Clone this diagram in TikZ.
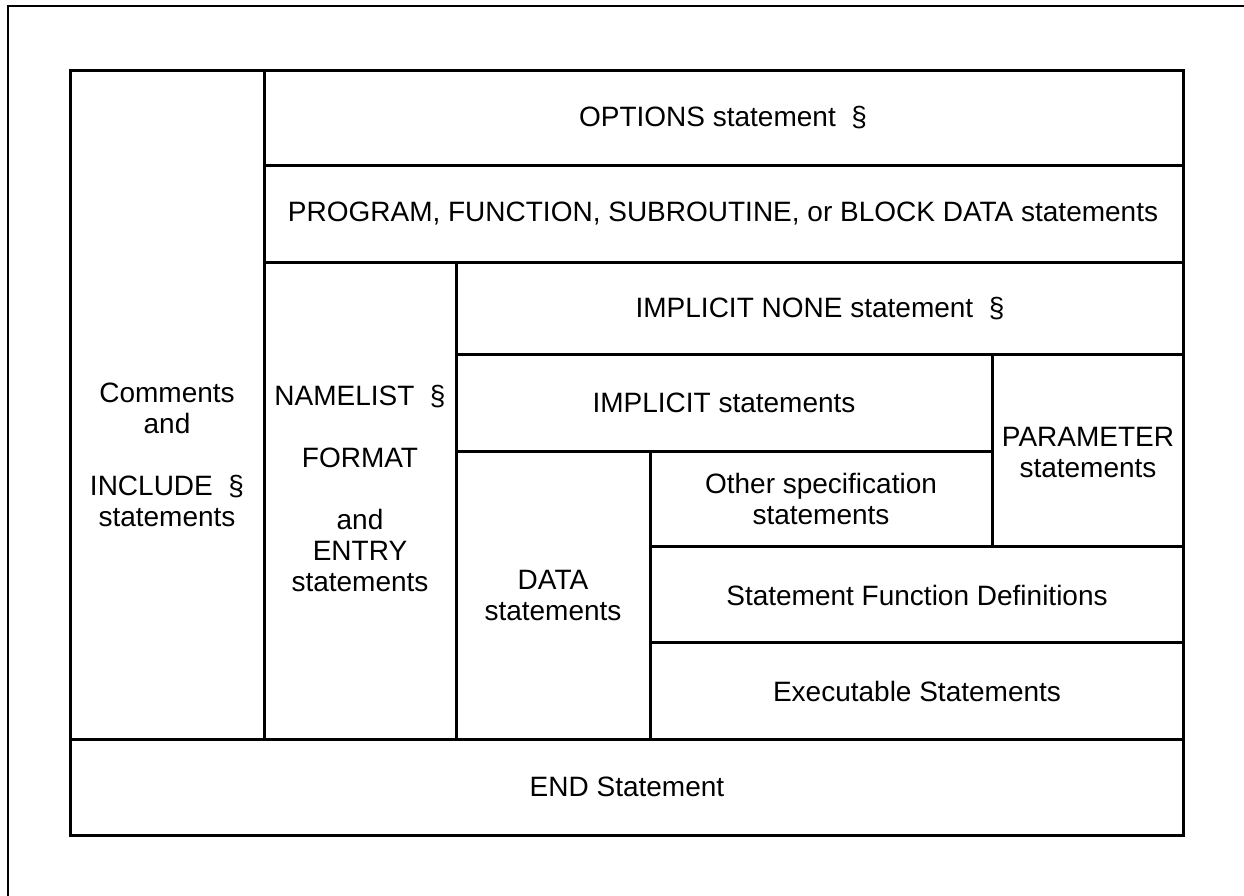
\documentclass[tikz,border=0pt]{standalone}
\usepackage{fontspec}
\setmainfont{Liberation Sans}
\begin{document}
\begin{tikzpicture}[x=1pt,y=-1pt,
  cell/.style={draw=black,line width=3pt,line join=miter},
  lbl/.style={align=center,inner sep=0pt,font=\fontsize{28}{31}\selectfont},
  frame/.style={draw=black,line width=2.2pt}]
\useasboundingbox (0,0) rectangle (1244,895);
% outer frame (only left and top edges visible)
\coordinate (fbl) at (8,900);
\coordinate (ftl) at (8,6);
\coordinate (ftr) at (1250,6);
\draw[frame] (fbl) -- (ftl) -- (ftr);
% cells
\draw[cell] (70,70) rectangle (264,739);
\draw[cell] (264,70) rectangle (1183,165);
\draw[cell] (264,165) rectangle (1183,262);
\draw[cell] (264,262) rectangle (456,739);
\draw[cell] (456,262) rectangle (1183,354);
\draw[cell] (456,354) rectangle (992,451);
\draw[cell] (992,354) rectangle (1183,546);
\draw[cell] (456,451) rectangle (650,739);
\draw[cell] (650,451) rectangle (992,546);
\draw[cell] (650,546) rectangle (1183,642);
\draw[cell] (650,642) rectangle (1183,739);
\draw[cell] (70,739) rectangle (1183,835);
% labels
\node[lbl] (comments) at (167,455) {Comments\\and\\[31pt]INCLUDE~~§\\statements};
\node[lbl] (options) at (723,118) {OPTIONS statement~~§};
\node[lbl] (program) at (723,214) {PROGRAM, FUNCTION, SUBROUTINE, or BLOCK DATA statements};
\node[lbl] (namelist) at (360,488) {NAMELIST~~§\\[31pt]FORMAT\\[31pt]and\\ENTRY\\statements};
\node[lbl] (impnone) at (820,309) {IMPLICIT NONE statement~~§};
\node[lbl] (implicit) at (724,403) {IMPLICIT statements};
\node[lbl] (parameter) at (1088,452) {PARAMETER\\statements};
\node[lbl] (data) at (553,595) {DATA\\statements};
\node[lbl] (otherspec) at (821,499) {Other specification\\statements};
\node[lbl] (stfunc) at (917,595) {Statement Function Definitions};
\node[lbl] (exec) at (917,691) {Executable Statements};
\node[lbl] (endst) at (627,787) {END Statement};
\end{tikzpicture}
\end{document}
